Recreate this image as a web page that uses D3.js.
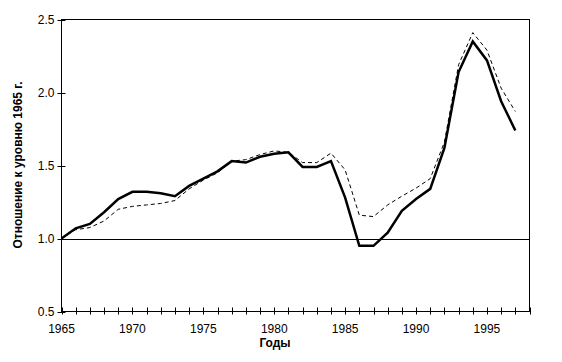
<!DOCTYPE html>
<html>
<head>
<meta charset="utf-8">
<script src="https://cdn.jsdelivr.net/npm/d3@7"></script>
<style>
  body { margin: 0; background: #fff; }
  text { font-family: "Liberation Sans", Arial, sans-serif; }
</style>
</head>
<body>
<div id="chart"></div>
<script>
var years = d3.range(1965, 1998)
var solidVals = [1.00, 1.07, 1.10, 1.18, 1.27, 1.32, 1.32, 1.31, 1.29, 1.36,
                 1.41, 1.46, 1.53, 1.52, 1.56, 1.58, 1.59, 1.49, 1.49, 1.53,
                 1.28, 0.95, 0.95, 1.04, 1.19, 1.27, 1.34, 1.62, 2.14, 2.35,
                 2.22, 1.94, 1.74]
var dashedVals = [1.00, 1.06, 1.075, 1.12, 1.20, 1.22, 1.23, 1.24, 1.26, 1.34,
                  1.40, 1.45, 1.53, 1.54, 1.575, 1.60, 1.59, 1.52, 1.52, 1.585,
                  1.47, 1.16, 1.15, 1.23, 1.29, 1.345, 1.41, 1.66, 2.19, 2.41,
                  2.29, 2.03, 1.87]
var yTicks = [0.5, 1.0, 1.5, 2.0, 2.5]
var xLabels = [1965, 1970, 1975, 1980, 1985, 1990, 1995]

var width = 562, height = 362
var pL = 61.5, pR = 529.5, pT = 19.5, pB = 311.5

var svg = d3.select('#chart').append('svg')
    .attr('width', width).attr('height', height)

var x = d3.scaleLinear().domain([1965, 1998]).range([pL, pR])
var y = d3.scaleLinear().domain([0.5, 2.5]).range([pB, pT])

// plot border
svg.append('rect')
    .attr('x', pL).attr('y', pT)
    .attr('width', pR - pL).attr('height', pB - pT)
    .attr('fill', 'none').attr('stroke', '#000').attr('stroke-width', 1)

// reference line at 1.0
svg.append('line')
    .attr('x1', pL).attr('x2', pR)
    .attr('y1', Math.round(y(1)) + 0.5).attr('y2', Math.round(y(1)) + 0.5)
    .attr('stroke', '#000').attr('stroke-width', 1)

// y axis ticks (cross)
svg.selectAll('.yt').data(yTicks).enter().append('line')
    .attr('x1', pL - 4).attr('x2', pL + 4)
    .attr('y1', function(d){ return Math.round(y(d)) + 0.5 })
    .attr('y2', function(d){ return Math.round(y(d)) + 0.5 })
    .attr('stroke', '#000')
svg.selectAll('.yl').data(yTicks).enter().append('text')
    .attr('x', pL - 7).attr('y', function(d){ return y(d) + 4.5 })
    .attr('text-anchor', 'end').attr('font-size', 12)
    .text(function(d){ return d.toFixed(1) })

// x axis ticks (cross)
svg.selectAll('.xt').data(d3.range(1965, 1999)).enter().append('line')
    .attr('x1', function(d){ return Math.round(x(d)) + 0.5 })
    .attr('x2', function(d){ return Math.round(x(d)) + 0.5 })
    .attr('y1', pB - 4).attr('y2', pB + 3)
    .attr('stroke', '#000')
svg.selectAll('.xl').data(xLabels).enter().append('text')
    .attr('x', function(d){ return x(d) }).attr('y', pB + 21)
    .attr('text-anchor', 'middle').attr('font-size', 12)
    .text(function(d){ return d })

// lines
var lineGen = function(vals){
  return d3.line()
    .x(function(d, i){ return x(years[i]) })
    .y(function(d){ return y(d) })(vals)
}
svg.append('path').attr('d', lineGen(dashedVals))
    .attr('fill', 'none').attr('stroke', '#000').attr('stroke-width', 1)
    .attr('stroke-dasharray', '4,3')
svg.append('path').attr('d', lineGen(solidVals))
    .attr('fill', 'none').attr('stroke', '#000').attr('stroke-width', 2.5)

// titles
svg.append('text')
    .attr('x', 275).attr('y', 347)
    .attr('text-anchor', 'middle').attr('font-size', 12).attr('font-weight', 'bold')
    .text('Годы')
svg.append('text')
    .attr('transform', 'translate(22,165) rotate(-90)')
    .attr('text-anchor', 'middle').attr('font-size', 12).attr('font-weight', 'bold')
    .text('Отношение к уровню 1965 г.')
</script>
</body>
</html>
